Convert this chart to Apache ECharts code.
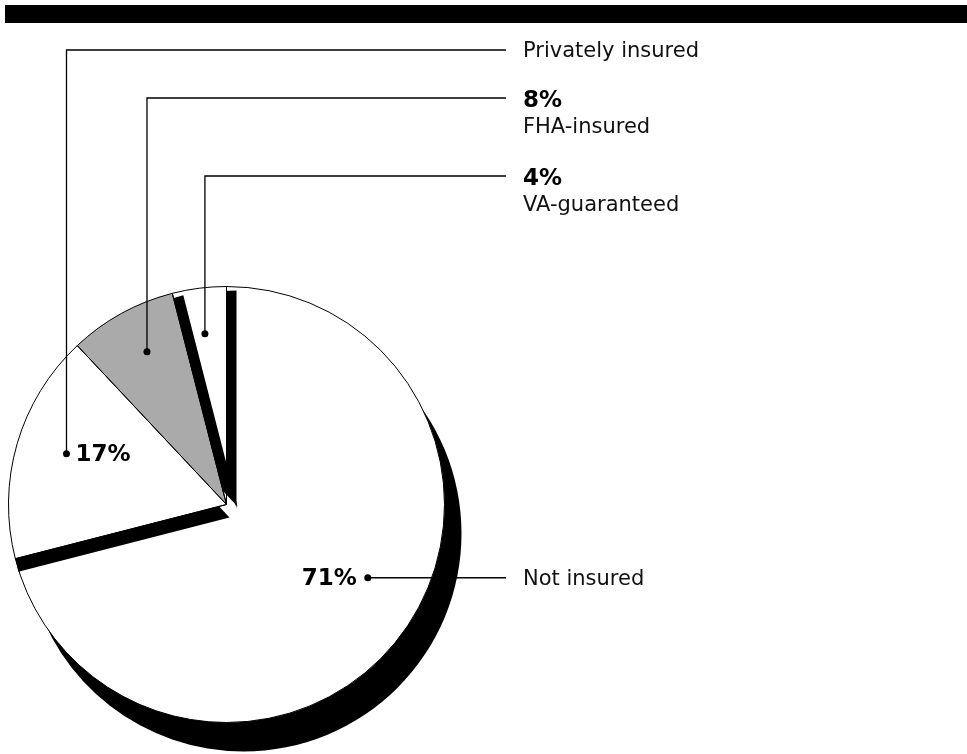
<!DOCTYPE html>
<html>
<head>
<meta charset="utf-8">
<script src="https://cdn.jsdelivr.net/npm/echarts@6/dist/echarts.min.js"></script>
<style>
  html, body { margin: 0; padding: 0; background: #fff; }
  #chart { width: 967px; height: 754px; }
</style>
</head>
<body>
<div id="chart"></div>
<script>
// data, in clockwise order from 12 o'clock
const categories = ['Not insured', 'Privately insured', 'FHA-insured', 'VA-guaranteed'];
const shares = [71, 17, 8, 4];
const shareLabels = ['71%', '17%', '8%', '4%'];

// pie geometry and look
const CX = 226.5, CY = 504.5, R = 218;
const fills = ['#ffffff', '#ffffff', '#aaaaaa', '#ffffff'];
const drops = [[17, 29], [3, 13], [11, 2], [10, 4]]; // hard shadow offset per slice
const onTop = 2; // FHA slice goes in a second pass so its shadow lands on the VA slice

// callouts
const anchorRadius = [0.73, 0.77, 0.79, 0.79];
const anchorTurn = [-10.4, 1.4, 1.3, 0];
const rowY = [null, 50, 98, 176];
const lineEndX = 506, textX = 523;
const pctFont = 'bold 23px "DejaVu Sans"';
const nameFont = '21px "DejaVu Sans"';

const chart = echarts.init(document.getElementById('chart'));

const hidden = { color: 'transparent', borderWidth: 0, shadowColor: 'transparent' };

function fillStyle(i) {
  return {
    color: fills[i],
    borderWidth: 0,
    shadowColor: '#000',
    shadowBlur: 0,
    shadowOffsetX: drops[i][0],
    shadowOffsetY: drops[i][1]
  };
}

const outline = { color: 'transparent', borderColor: '#000', borderWidth: 1, shadowColor: 'transparent' };

// pass 0: fills except FHA, pass 1: FHA fill, pass 2: outlines only
function pieSeries(pass) {
  return {
    type: 'pie',
    center: [CX, CY],
    radius: R,
    startAngle: 90,
    clockwise: true,
    silent: true,
    label: { show: false },
    labelLine: { show: false },
    emphasis: { disabled: true },
    data: categories.map((name, i) => {
      let style = outline;
      if (pass === 0) style = i !== onTop ? fillStyle(i) : hidden;
      if (pass === 1) style = i === onTop ? fillStyle(i) : hidden;
      return { name: name, value: shares[i], itemStyle: style };
    })
  };
}

// callout anchors follow the slice angles
const total = shares.reduce((a, b) => a + b, 0);
let cum = 0;
const mids = shares.map(v => {
  const m = (cum + v / 2) / total * 360;
  cum += v;
  return m;
});
const polar = (deg, r) => {
  const a = deg * Math.PI / 180;
  return [CX + r * Math.sin(a), CY - r * Math.cos(a)];
};

const graphics = [
  { type: 'rect', z: 100, shape: { x: 5, y: 5, width: 962, height: 18 }, style: { fill: '#000' } }
];

shares.forEach((v, i) => {
  const dot = polar(mids[i] + anchorTurn[i], anchorRadius[i] * R);
  const y = i === 0 ? dot[1] : rowY[i];
  const pts = i === 0 ? [dot, [lineEndX, y]] : [dot, [dot[0], y], [lineEndX, y]];
  graphics.push({ type: 'polyline', z: 100, shape: { points: pts }, style: { stroke: '#000', lineWidth: 1.3, fill: null } });
  graphics.push({ type: 'circle', z: 101, shape: { cx: dot[0], cy: dot[1], r: 3.5 }, style: { fill: '#000' } });

  if (i < 2) {
    graphics.push({ type: 'text', z: 101, style: { text: categories[i], x: textX, y: y + 2, font: nameFont, fill: '#111', textAlign: 'left', textVerticalAlign: 'middle' } });
    graphics.push({ type: 'text', z: 101, style: {
      text: shareLabels[i],
      x: i === 0 ? dot[0] - 11 : dot[0] + 9,
      y: dot[1] + 1,
      font: pctFont, fill: '#000',
      textAlign: i === 0 ? 'right' : 'left', textVerticalAlign: 'middle'
    } });
  } else {
    graphics.push({ type: 'text', z: 101, style: { text: shareLabels[i], x: textX, y: y + 3.5, font: pctFont, fill: '#000', textAlign: 'left', textVerticalAlign: 'middle' } });
    graphics.push({ type: 'text', z: 101, style: { text: categories[i], x: textX, y: y + 29.5, font: nameFont, fill: '#111', textAlign: 'left', textVerticalAlign: 'middle' } });
  }
});

chart.setOption({
  animation: false,
  backgroundColor: '#fff',
  series: [pieSeries(0), pieSeries(1), pieSeries(2)],
  graphic: graphics
});
</script>
</body>
</html>
